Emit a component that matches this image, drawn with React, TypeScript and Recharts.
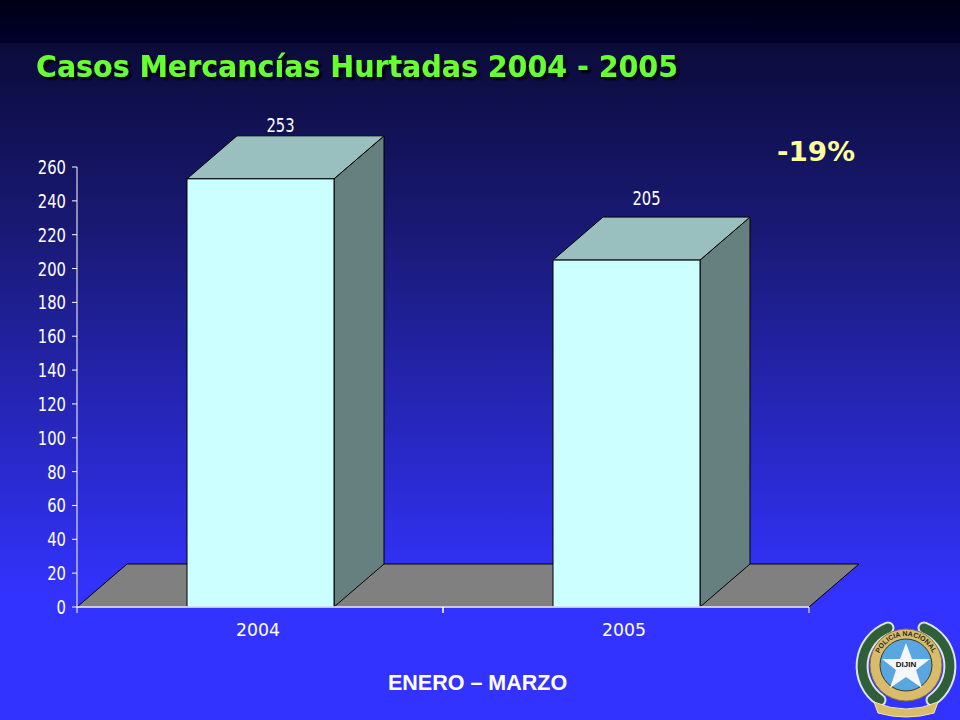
import React from "react";
import { BarChart, Bar, XAxis, YAxis, ReferenceArea, LabelList } from "recharts";

const years = ["2004", "2005"];
const cases = [253, 205];
const yTicks = [0, 20, 40, 60, 80, 100, 120, 140, 160, 180, 200, 220, 240, 260];

const data = years.map((year, i) => ({ year, cases: cases[i] }));

const WIDTH = 960;
const HEIGHT = 720;
const LEFT = 77;
const RIGHT = 809;
const TOP = 167;
const BOTTOM = 607;
const DEPTH_X = 50;
const DEPTH_Y = 43;
const BAND = (RIGHT - LEFT) / years.length;
const SANS = "'DejaVu Sans', Verdana, sans-serif";
const DIGIT = 9.4; // the axis digits are squeezed, no condensed font here

const Box3D = (props: any) => {
  const { x, y, width, height } = props;
  const r = x + width;
  const b = y + height;
  return (
    <g stroke="#000" strokeWidth={1}>
      <polygon points={`${r},${y} ${r + DEPTH_X},${y - DEPTH_Y} ${r + DEPTH_X},${b - DEPTH_Y} ${r},${b}`} fill="#667f7f" />
      <polygon points={`${x},${y} ${x + DEPTH_X},${y - DEPTH_Y} ${r + DEPTH_X},${y - DEPTH_Y} ${r},${y}`} fill="#99bfbf" />
      <rect x={x} y={y} width={width} height={height} fill="#ccffff" />
    </g>
  );
};

const Floor = (props: any) => {
  const { x, y, width, height } = props;
  const b = y + height;
  return (
    <polygon
      points={`${x},${b} ${x + DEPTH_X},${y} ${x + width + DEPTH_X},${y} ${x + width},${b}`}
      fill="#808080"
      stroke="#000"
      strokeWidth={1}
    />
  );
};

const BarValue = (props: any) => {
  const { x, y, width, value, index } = props;
  // the second label sits higher above its box in the original
  const lift = index === 1 ? 12 : 4;
  return (
    <text
      x={x + width / 2 + DEPTH_X / 2 - 5}
      y={y - DEPTH_Y - lift}
      textAnchor="middle"
      fill="#fff"
      fontFamily={SANS}
      fontSize={19}
      textLength={String(value).length * DIGIT}
      lengthAdjust="spacingAndGlyphs"
    >
      {value}
    </text>
  );
};

const ValueTick = (props: any) => {
  const { x, y, payload } = props;
  return (
    <text
      x={x}
      y={y + 7}
      textAnchor="end"
      fill="#fff"
      fontFamily={SANS}
      fontSize={19}
      textLength={String(payload.value).length * DIGIT}
      lengthAdjust="spacingAndGlyphs"
    >
      {payload.value}
    </text>
  );
};

const YearTick = (props: any) => {
  const { x, payload } = props;
  return (
    <g>
      <line x1={x - BAND / 2} x2={x - BAND / 2} y1={BOTTOM} y2={BOTTOM + 6} stroke="#fff" />
      <line x1={x + BAND / 2} x2={x + BAND / 2} y1={BOTTOM} y2={BOTTOM + 6} stroke="#fff" />
      <text x={x - 2} y={BOTTOM + 29} textAnchor="middle" fill="#fff" fontFamily={SANS} fontSize={18} textLength={44} lengthAdjust="spacingAndGlyphs">
        {payload.value}
      </text>
    </g>
  );
};

const Captions = () => (
  <svg width={WIDTH} height={HEIGHT} style={{ position: "absolute", left: 0, top: 0 }}>
    <defs>
      <filter id="titleShadow" x="-5%" y="-20%" width="110%" height="150%">
        <feDropShadow dx={3} dy={3} stdDeviation={0.8} floodColor="#000" floodOpacity={0.9} />
      </filter>
    </defs>
    <text x={36} y={77} fontFamily={SANS} fontWeight="bold" fontSize={31} fill="#66ff33" textLength={642} lengthAdjust="spacingAndGlyphs" filter="url(#titleShadow)">
      Casos Mercancías Hurtadas 2004 - 2005
    </text>
    <text x={777} y={161} fontFamily={SANS} fontWeight="bold" fontSize={26} fill="#ffff99" textLength={78} lengthAdjust="spacingAndGlyphs">
      -19%
    </text>
    <text x={388} y={690} fontFamily="'Liberation Sans', Arial, sans-serif" fontWeight="bold" fontSize={21.5} fill="#fff">
      ENERO – MARZO
    </text>
  </svg>
);

const Logo = () => (
  <svg width={110} height={104} viewBox="0 0 110 104" style={{ position: "absolute", left: 852, top: 616 }}>
    <g fill="none" strokeLinecap="round">
      <path d="M36 12 A41 41 0 0 0 28 84" stroke="#dfe4ee" strokeWidth={13} />
      <path d="M72 12 A41 41 0 0 1 80 84" stroke="#dfe4ee" strokeWidth={13} />
      <path d="M36 12 A41 41 0 0 0 28 84" stroke="#2f5f38" strokeWidth={9} />
      <path d="M72 12 A41 41 0 0 1 80 84" stroke="#2f5f38" strokeWidth={9} />
    </g>
    <circle cx={54} cy={49} r={36} fill="#d8bc6a" stroke="#8a7434" />
    <circle cx={54} cy={49} r={26} fill="#5aa6e0" stroke="#3a3a20" />
    <polygon points="54,27 60,43 78,43 64,54 70,72 54,61 38,72 44,54 30,43 48,43" fill="#f4f6fa" />
    <text x={54} y={51} textAnchor="middle" fontFamily="'Liberation Sans', Arial, sans-serif" fontWeight="bold" fontSize={8} fill="#111">
      DIJIN
    </text>
    <defs>
      <path id="ringTop" d="M25 49 A29 29 0 0 1 83 49" />
    </defs>
    <text fontFamily="'Liberation Sans', Arial, sans-serif" fontWeight="bold" fontSize={7} fill="#2a2a20" textAnchor="middle">
      <textPath href="#ringTop" startOffset="50%">POLICIA NACIONAL</textPath>
    </text>
    <path d="M22 86 Q54 100 86 86 L82 97 Q54 105 26 97 Z" fill="#d8bc6a" stroke="#efe6c0" />
  </svg>
);

export default function App() {
  return (
    <div
      style={{
        position: "absolute",
        left: 0,
        top: 0,
        width: WIDTH,
        height: HEIGHT,
        overflow: "hidden",
        background: "linear-gradient(180deg, #0b0b3a 43px, #1a1a78 240px, #3333ff 600px)",
      }}
    >
      <div style={{ position: "absolute", left: 0, top: 0, width: WIDTH, height: 43, background: "linear-gradient(180deg, #000014, #00002c)" }} />
      <BarChart
        width={WIDTH}
        height={HEIGHT}
        data={data}
        margin={{ top: TOP, right: WIDTH - RIGHT, bottom: 0, left: 0 }}
        style={{ position: "absolute", left: 0, top: 0 }}
      >
        <ReferenceArea y1={0} y2={(DEPTH_Y / (BOTTOM - TOP)) * 260} shape={<Floor />} ifOverflow="visible" />
        <XAxis
          dataKey="year"
          height={HEIGHT - BOTTOM}
          axisLine={{ stroke: "#fff", strokeWidth: 1.5 }}
          tickLine={false}
          tick={<YearTick />}
          interval={0}
        />
        <YAxis
          width={LEFT}
          domain={[0, 260]}
          ticks={yTicks}
          interval={0}
          axisLine={{ stroke: "#fff" }}
          tickLine={{ stroke: "#fff" }}
          tickSize={5}
          tickMargin={6}
          tick={<ValueTick />}
        />
        <Bar dataKey="cases" barSize={147} shape={<Box3D />} isAnimationActive={false}>
          <LabelList dataKey="cases" content={<BarValue />} />
        </Bar>
      </BarChart>
      <Captions />
      <Logo />
    </div>
  );
}
